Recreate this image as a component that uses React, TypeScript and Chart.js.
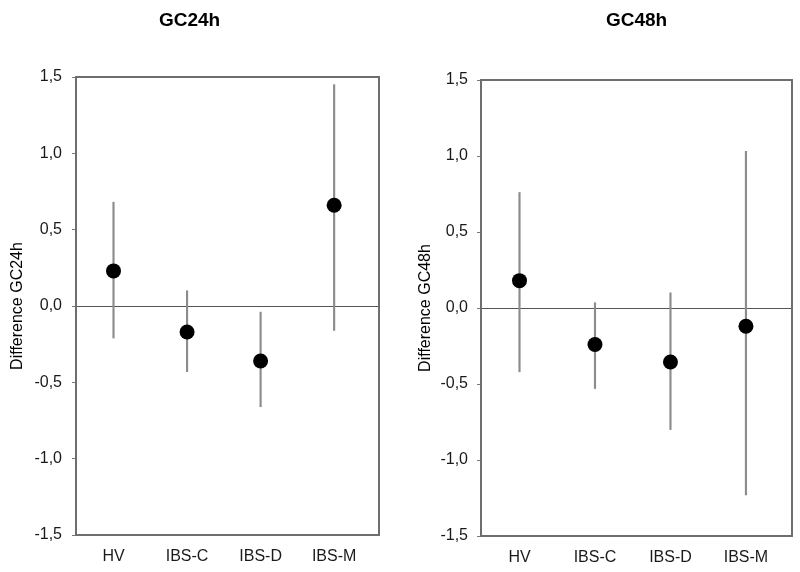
import React, { useEffect, useRef } from "react";
import { Chart, registerables } from "chart.js";

Chart.register(...registerables);

const categories = ["HV", "IBS-C", "IBS-D", "IBS-M"];

const gc24Mean = [0.23, -0.17, -0.36, 0.66];
const gc24Lower = [-0.21, -0.43, -0.66, -0.16];
const gc24Upper = [0.68, 0.1, -0.04, 1.45];

const gc48Mean = [0.18, -0.24, -0.355, -0.12];
const gc48Lower = [-0.42, -0.53, -0.8, -1.23];
const gc48Upper = [0.76, 0.035, 0.1, 1.03];

const yTickValues = [-1.5, -1.0, -0.5, 0.0, 0.5, 1.0, 1.5];

const FONT = "Arial, 'Liberation Sans', Helvetica, sans-serif";

const framePlugin = {
  id: "frame",
  beforeDatasetsDraw(chart: any) {
    const { ctx, chartArea } = chart;
    ctx.save();
    ctx.strokeStyle = "#6e6e6e";
    ctx.lineWidth = 2;
    ctx.strokeRect(chartArea.left, chartArea.top, chartArea.right - chartArea.left, chartArea.bottom - chartArea.top);
    ctx.restore();
  },
};

type PanelProps = {
  title: string;
  yTitle: string;
  mean: number[];
  lower: number[];
  upper: number[];
  yAxisWidth: number;
  xAxisHeight: number;
  rightPad: number;
  titleBottomPad: number;
  titleFullSize: boolean;
  yTitlePad: number;
  yTickPad: number;
};

function Panel(props: PanelProps) {
  const ref = useRef<HTMLCanvasElement | null>(null);
  useEffect(() => {
    if (!ref.current) return;
    const errData = categories.map((_, i) => ({ x: i + 1, y: [props.lower[i], props.upper[i]] }));
    const ptData = categories.map((_, i) => ({ x: i + 1, y: props.mean[i] }));
    const chart = new Chart(ref.current, {
      type: "bar",
      data: {
        datasets: [
          {
            type: "bar",
            data: errData as any,
            backgroundColor: "#8c8c8c",
            barThickness: 1.5,
            borderWidth: 0,
            order: 2,
          },
          {
            type: "scatter",
            data: ptData as any,
            backgroundColor: "#000000",
            borderColor: "#000000",
            pointRadius: 7.5,
            pointBorderWidth: 0,
            showLine: false,
            order: 0,
          } as any,
        ],
      },
      options: {
        responsive: false,
        animation: false,
        layout: { padding: { left: 0, right: props.rightPad, top: 0, bottom: 0 } },
        plugins: {
          legend: { display: false },
          tooltip: { enabled: false },
          title: {
            display: true,
            text: props.title,
            fullSize: props.titleFullSize,
            color: "#000",
            font: { family: FONT, size: 19, weight: "bold" },
            padding: { top: 9, bottom: props.titleBottomPad },
          },
        },
        scales: {
          x: {
            type: "linear",
            min: 0.49,
            max: 4.61,
            offset: false,
            grid: { display: false, drawTicks: false },
            border: { display: false },
            afterBuildTicks: (scale: any) => {
              scale.ticks = categories.map((_, i) => ({ value: i + 1 }));
            },
            afterFit: (scale: any) => {
              scale.height = props.xAxisHeight;
            },
            ticks: {
              autoSkip: false,
              maxRotation: 0,
              padding: 12,
              color: "#1a1a1a",
              font: { family: FONT, size: 16 },
              callback: (v: any) => categories[Number(v) - 1] ?? "",
            },
          },
          y: {
            type: "linear",
            min: -1.5,
            max: 1.5,
            afterBuildTicks: (scale: any) => {
              scale.ticks = yTickValues.map((v) => ({ value: v }));
            },
            afterFit: (scale: any) => {
              scale.width = props.yAxisWidth;
            },
            grid: {
              display: true,
              drawTicks: true,
              tickLength: 4,
              tickColor: "#777",
              lineWidth: 1,
              color: (c: any) => (c.tick && c.tick.value === 0 ? "#555" : "rgba(0,0,0,0)"),
            },
            border: { display: false },
            ticks: {
              padding: props.yTickPad,
              color: "#1a1a1a",
              font: { family: FONT, size: 16 },
              callback: (v: any) => Number(v).toFixed(1).replace(".", ","),
            },
            title: {
              display: true,
              text: props.yTitle,
              color: "#000",
              font: { family: FONT, size: 16 },
              padding: { top: props.yTitlePad, bottom: 0 },
            },
          },
        },
      },
      plugins: [framePlugin],
    } as any);
    return () => chart.destroy();
  }, []);
  return <canvas ref={ref} width={400} height={572} style={{ display: "block" }} />;
}

export default function App() {
  return (
    <div style={{ position: "absolute", left: 0, top: 0, width: 800, height: 572, background: "#fff", display: "flex" }}>
      <Panel
        title="GC24h"
        yTitle="Difference GC24h"
        mean={gc24Mean}
        lower={gc24Lower}
        upper={gc24Upper}
        yAxisWidth={76}
        xAxisHeight={37}
        rightPad={21}
        titleBottomPad={45.2}
        titleFullSize={true}
        yTitlePad={8.4}
        yTickPad={10}
      />
      <Panel
        title="GC48h"
        yTitle="Difference GC48h"
        mean={gc48Mean}
        lower={gc48Lower}
        upper={gc48Upper}
        yAxisWidth={81}
        xAxisHeight={36}
        rightPad={8}
        titleBottomPad={48.2}
        titleFullSize={false}
        yTitlePad={16.4}
        yTickPad={9}
      />
    </div>
  );
}
